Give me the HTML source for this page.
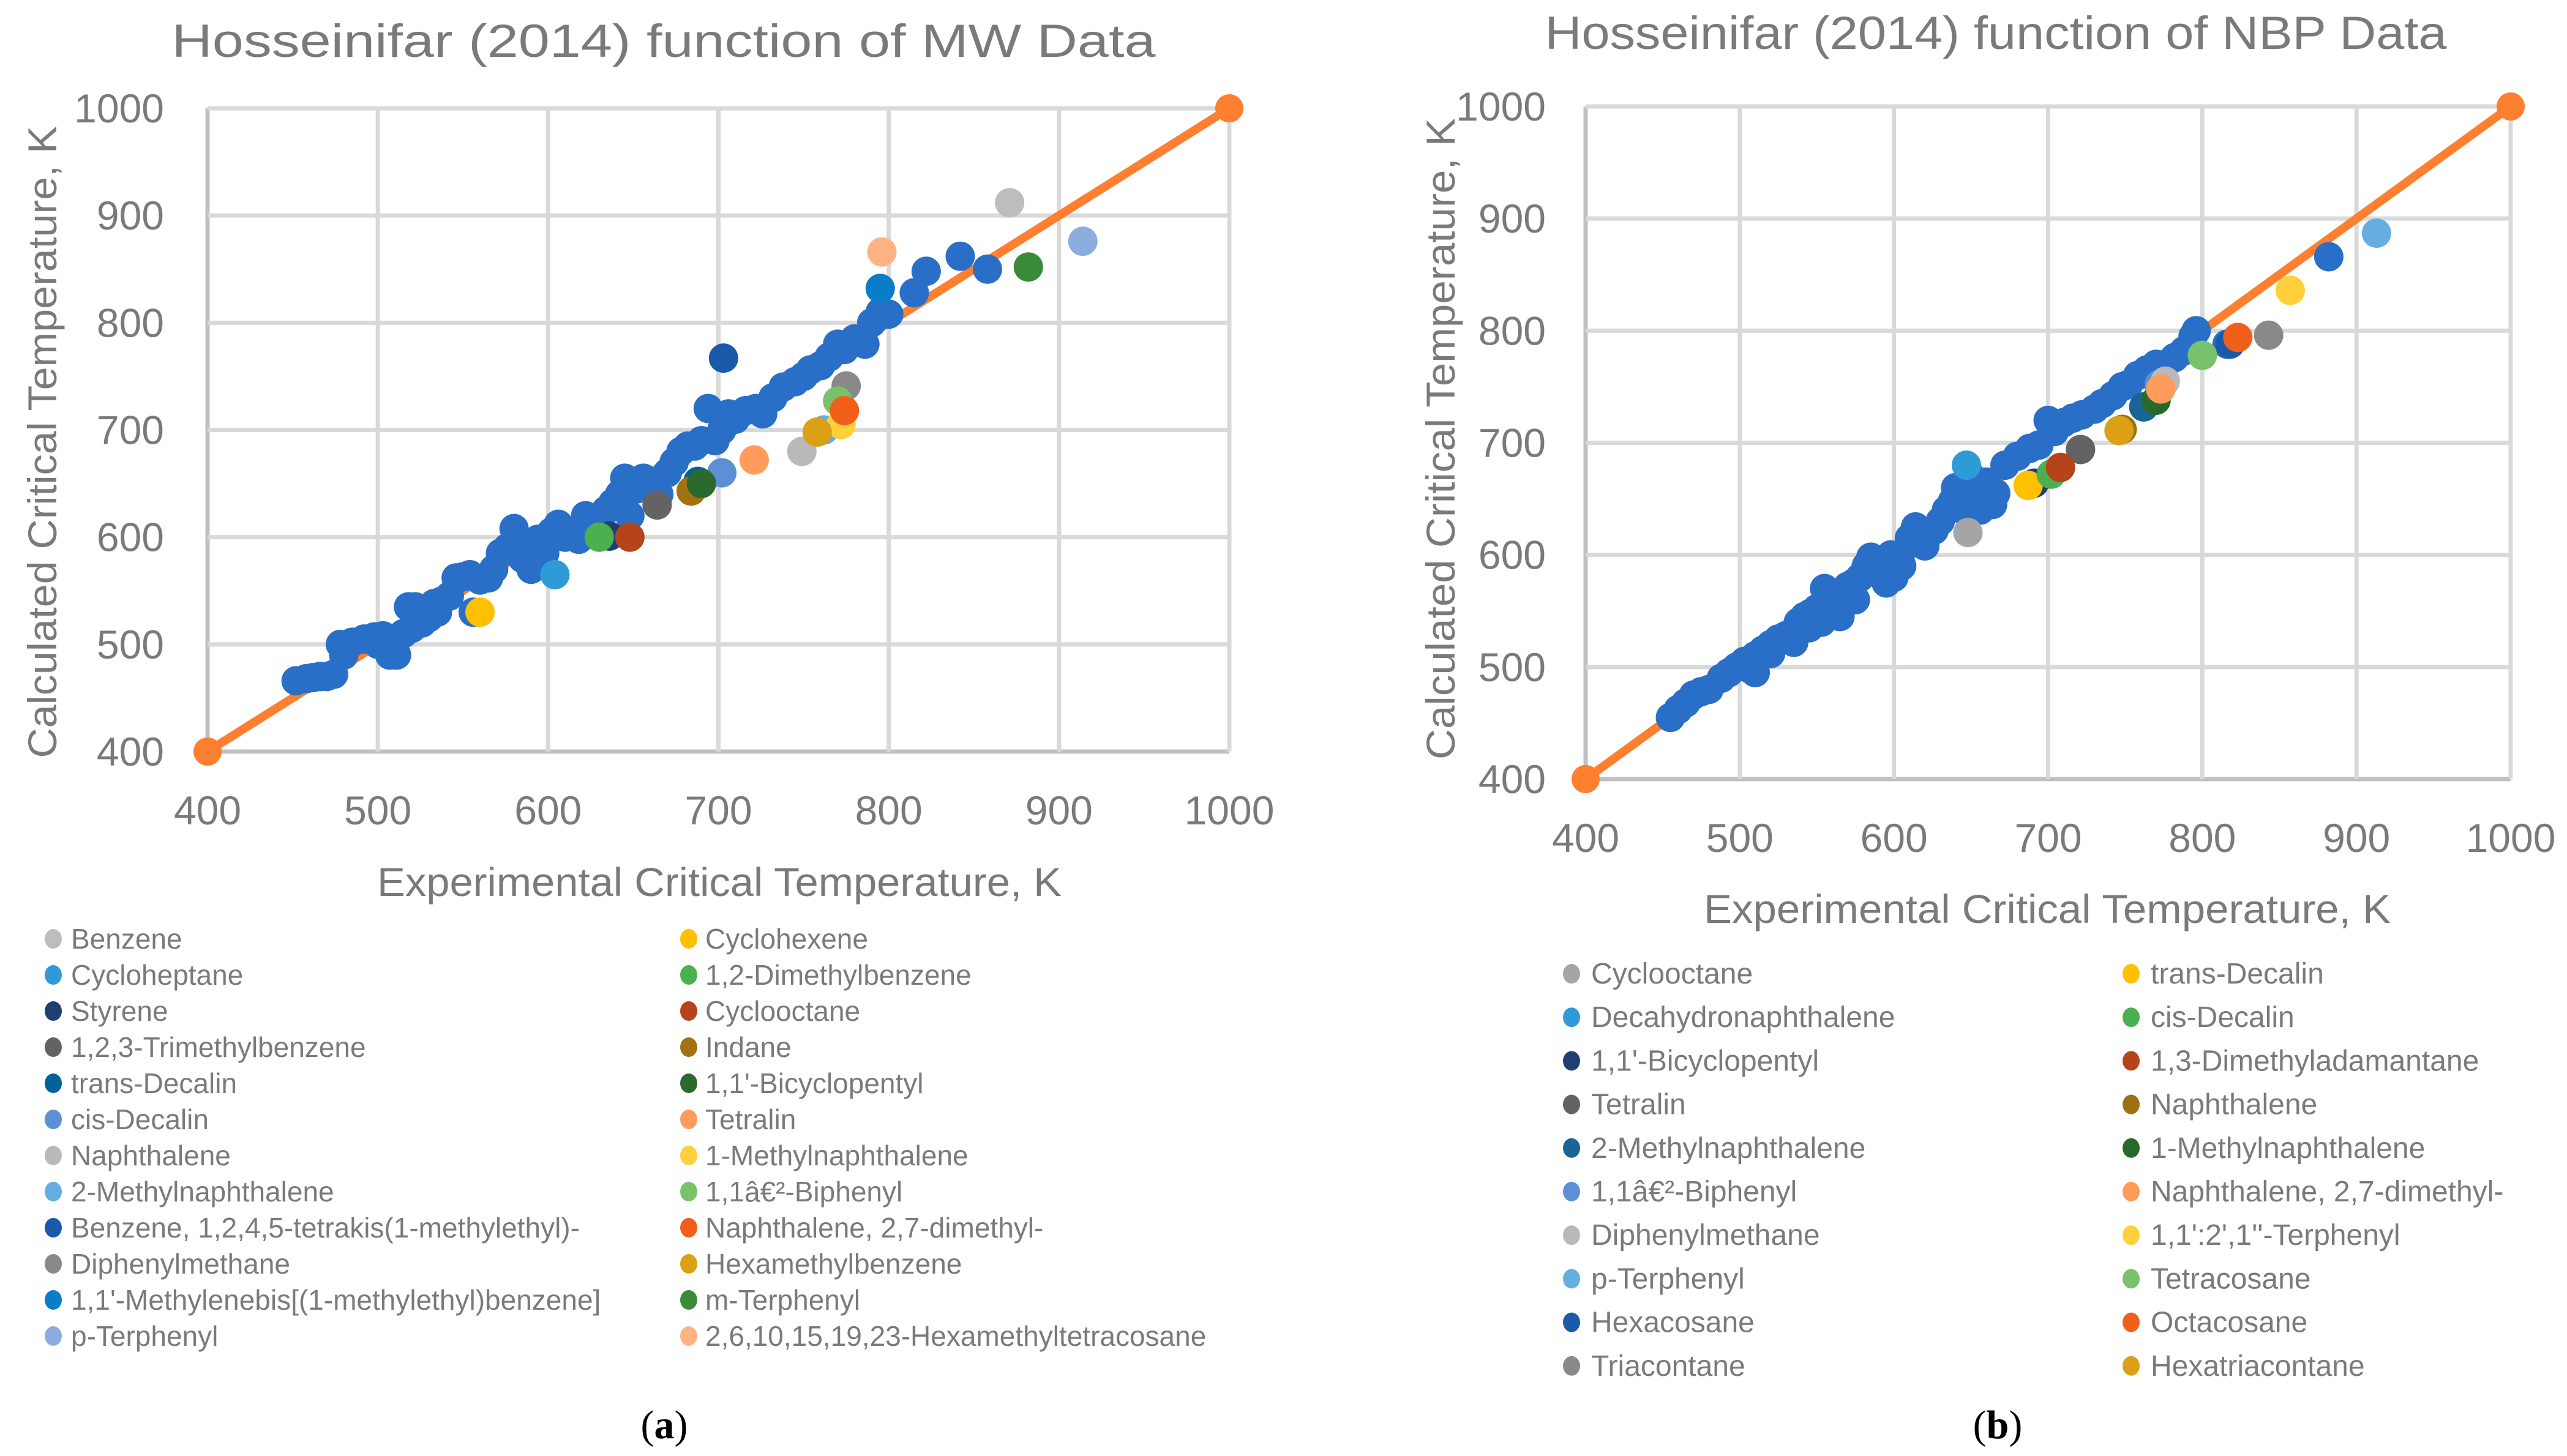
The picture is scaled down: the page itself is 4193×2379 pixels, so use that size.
<!DOCTYPE html>
<html><head><meta charset="utf-8"><title>Hosseinifar (2014) charts</title>
<style>
html,body{margin:0;padding:0;background:#fff;}
svg{display:block;}
text{font-family:"Liberation Sans",sans-serif;fill:#7a7a7a;}
</style></head>
<body>
<svg id="root" xmlns="http://www.w3.org/2000/svg" width="4193" height="2379" viewBox="0 0 4193 2379">
<rect x="0" y="0" width="4193" height="2379" fill="#fff"/>
<g id="chartA"></g>
<g id="chartB"></g>
<g id="legendA"></g>
<g id="legendB"></g>
<text x="1085" y="2350" text-anchor="middle" font-size="66" style="font-family:'Liberation Serif',serif;fill:#000">(<tspan font-weight="bold">a</tspan>)</text>
<text x="3263" y="2350" text-anchor="middle" font-size="66" style="font-family:'Liberation Serif',serif;fill:#000">(<tspan font-weight="bold">b</tspan>)</text>
</svg>
<script>
var NS = "http://www.w3.org/2000/svg";
var ticks = [400, 500, 600, 700, 800, 900, 1000];
var tickLabels = ["400", "500", "600", "700", "800", "900", "1000"];
var parityLine = [400, 1000];

// Chart A: main series (experimental, calculated)
var aMainX = [452,458,462,466,470,474,478,485,492,498,503,507,511,515,518,522,526,530,533,537,542,546,550,554,556,560,565,568,572,576,580,582,585,590,594,598,602,606,610,614,618,622,626,630,634,638,642,645,648,652,656,660,665,670,674,678,682,686,690,694,698,702,706,710,716,722,726,732,738,745,750,754,760,765,770,774,780,786,790,795,800,815,822,842,858,480,500,520,535];
var aMainY = [466,468,469,470,470,472,500,502,505,507,508,490,490,510,535,535,520,525,538,540,545,562,563,565,530,560,562,570,585,590,608,595,580,570,598,585,605,612,600,605,598,620,615,610,625,632,640,655,620,645,655,648,640,660,670,680,685,685,690,720,690,700,715,710,718,720,715,730,740,745,750,756,760,768,780,775,785,780,800,810,808,828,848,862,850,490,500,515,530];
var aSeriesNames = ["Benzene","Cycloheptane","Styrene","1,2,3-Trimethylbenzene","trans-Decalin","cis-Decalin","Naphthalene","2-Methylnaphthalene","Benzene, 1,2,4,5-tetrakis(1-methylethyl)-","Diphenylmethane","1,1'-Methylenebis[(1-methylethyl)benzene]","p-Terphenyl","Cyclohexene","1,2-Dimethylbenzene","Cyclooctane","Indane","1,1'-Bicyclopentyl","Tetralin","1-Methylnaphthalene","1,1â€²-Biphenyl","Naphthalene, 2,7-dimethyl-","Hexamethylbenzene","m-Terphenyl","2,6,10,15,19,23-Hexamethyltetracosane"];
var aSeriesColors = ["#bdbdbd","#2e9bd6","#1f3f73","#636363","#00619b","#5d8fd6","#b9b9b9","#65aee0","#1a5aa8","#898989","#0a7dc8","#8caede","#ffc000","#4caf50","#b5441a","#a27212","#2b6a2c","#ff9c5b","#ffd03a","#79c16b","#f0601a","#dba016","#3b8a3a","#ffb385"];
var aSeriesX = [871,604,636,664,688,702,749,762,703,775,795,914,560,630,648,684,690,721,772,770,774,758,882,796];
var aSeriesY = [912,565,601,630,652,660,680,700,767,741,832,876,530,600,600,643,650,672,705,727,718,698,852,866];

// Chart B
var bMainX = [455,460,465,470,475,480,488,493,498,503,507,510,515,520,525,530,535,538,542,546,550,553,556,560,563,566,570,574,578,582,586,590,594,598,600,604,610,614,618,622,626,630,634,638,642,646,650,654,658,662,666,672,680,688,694,700,704,710,716,722,730,735,742,748,752,758,764,770,776,782,788,794,796,816,882,545,555,565,575,585,595,605,620,640,645,650,656,660,664,520,535,510];
var bMainY = [455,462,468,475,478,480,490,495,500,505,498,510,515,520,525,528,532,540,545,548,552,540,558,560,565,555,572,575,580,590,585,595,590,600,580,598,615,625,620,618,622,630,640,648,655,660,665,655,660,650,655,680,688,695,698,720,710,718,722,725,730,735,742,750,752,760,765,770,770,776,782,795,800,788,866,535,570,545,560,598,575,590,608,660,640,670,640,665,645,512,522,495];
var bSeriesNames = ["Cyclooctane","Decahydronaphthalene","1,1'-Bicyclopentyl","Tetralin","2-Methylnaphthalene","1,1â€²-Biphenyl","Diphenylmethane","p-Terphenyl","Hexacosane","Triacontane","trans-Decalin","cis-Decalin","1,3-Dimethyladamantane","Naphthalene","1-Methylnaphthalene","Naphthalene, 2,7-dimethyl-","1,1':2',1''-Terphenyl","Tetracosane","Octacosane","Hexatriacontane"];
var bSeriesColors = ["#a5a5a5","#2e9bd6","#1f3f73","#636363","#1a6496","#5d8fd6","#b9b9b9","#65aee0","#1a5aa8","#898989","#ffc000","#4caf50","#b5441a","#9e7210","#276a2a","#ff9c5b","#ffd03a","#79c16b","#f0601a","#dba016"];
var bSeriesX = [648,647,691,721,762,772,776,913,818,843,687,702,708,748,770,773,857,800,823,746];
var bSeriesY = [620,680,664,694,732,752,755,887,788,796,662,672,678,712,738,748,836,778,794,711];

function mk(tag, attrs, parent) {
  var e = document.createElementNS(NS, tag);
  for (var k in attrs) e.setAttribute(k, attrs[k]);
  parent.appendChild(e);
  return e;
}
function makeScale(d0, d1, r0, r1) { return function (v) { return r0 + (v - d0) / (d1 - d0) * (r1 - r0); }; }

function drawChart(g, cfg) {
  var sx = makeScale(400, 1000, cfg.x0, cfg.x1);
  var sy = makeScale(400, 1000, cfg.y0, cfg.y1);
  var i, e;
  for (i = 0; i < ticks.length; i++) {
    e = mk("line", {x1: cfg.x0, x2: cfg.x1, y1: sy(ticks[i]), y2: sy(ticks[i]), stroke: i === 0 ? "#c0c0c0" : "#d9d9d9", "stroke-width": 7}, g);
    
    
    e = mk("line", {x1: sx(ticks[i]), x2: sx(ticks[i]), y1: cfg.y0, y2: cfg.y1, stroke: i === 0 ? "#c0c0c0" : "#d9d9d9", "stroke-width": 7}, g);
    
    
    e = mk("text", {x: cfg.yTickRight, y: sy(ticks[i]) + 23, "text-anchor": "end", "font-size": 66}, g);
    e.textContent = tickLabels[i];
    
    
    e = mk("text", {x: sx(ticks[i]), y: cfg.xTickBase, "text-anchor": "middle", "font-size": 66}, g);
    e.textContent = tickLabels[i];
    
    
  }
  e = mk("line", {x1: sx(parityLine[0]), y1: sy(parityLine[0]), x2: sx(parityLine[1]), y2: sy(parityLine[1]), stroke: "#fd7f2f", "stroke-width": 14}, g);
  
  
  for (i = 0; i < parityLine.length; i++) {
    e = mk("circle", {cx: sx(parityLine[i]), cy: sy(parityLine[i]), r: 23, fill: "#fd7f2f"}, g);
    
    
  }
  for (i = 0; i < cfg.mx.length; i++) {
    e = mk("circle", {cx: sx(cfg.mx[i]), cy: sy(cfg.my[i]), r: cfg.r, fill: "#2a6fc7"}, g);
    
    
  }
  for (i = 0; i < cfg.sx.length; i++) {
    e = mk("circle", {cx: sx(cfg.sx[i]), cy: sy(cfg.sy[i]), r: cfg.r, fill: cfg.sc[i]}, g);
    
    
  }
  e = mk("text", {x: cfg.titleX, y: cfg.titleY, "text-anchor": "middle", "font-size": 76, textLength: cfg.titleW, lengthAdjust: "spacingAndGlyphs"}, g);
  e.textContent = cfg.title;
  
  
  e = mk("text", {x: cfg.xtX, y: cfg.xtY, "text-anchor": "middle", "font-size": 66, textLength: cfg.xtW, lengthAdjust: "spacingAndGlyphs"}, g);
  e.textContent = "Experimental Critical Temperature, K";
  
  
  e = mk("text", {x: 0, y: 0, "text-anchor": "middle", "font-size": 66, textLength: cfg.ytW, lengthAdjust: "spacingAndGlyphs", transform: "translate(" + cfg.ytX + "," + cfg.ytY + ") rotate(-90)"}, g);
  e.textContent = "Calculated Critical Temperature, K";
  
  
}

drawChart(document.getElementById("chartA"), {
  x0: 339, x1: 2008, y0: 1228, y1: 177, r: 24,
  mx: aMainX, my: aMainY, sx: aSeriesX, sy: aSeriesY, sc: aSeriesColors,
  yTickRight: 268, xTickBase: 1347,
  title: "Hosseinifar (2014) function of MW Data", titleX: 1084, titleY: 93, titleW: 1607,
  xtX: 1175, xtY: 1464, xtW: 1118, ytX: 92, ytY: 722, ytW: 1033
});
drawChart(document.getElementById("chartB"), {
  x0: 2590, x1: 4101, y0: 1273, y1: 174, r: 24,
  mx: bMainX, my: bMainY, sx: bSeriesX, sy: bSeriesY, sc: bSeriesColors,
  yTickRight: 2525, xTickBase: 1392,
  title: "Hosseinifar (2014) function of NBP Data", titleX: 3260, titleY: 80, titleW: 1473,
  xtX: 3344, xtY: 1508, xtW: 1122, ytX: 2376, ytY: 717, ytW: 1048
});

function drawLegend(g, names, colors, cfg) {
  var half = Math.ceil(names.length / 2);
  for (var i = 0; i < names.length; i++) {
    var col = i < half ? 0 : 1;
    var row = i < half ? i : i - half;
    var y = cfg.y0 + row * cfg.step;
    var e = mk("ellipse", {cx: cfg.mx[col], cy: y, rx: 14, ry: 16, fill: colors[i]}, g);
    
    
    e = mk("text", {x: cfg.tx[col], y: y + 16, "font-size": cfg.fs}, g);
    e.textContent = names[i];
    
    
  }
}
drawLegend(document.getElementById("legendA"), aSeriesNames, aSeriesColors, {y0: 1534, step: 59, mx: [87, 1125], tx: [116, 1152], fs: 46});
drawLegend(document.getElementById("legendB"), bSeriesNames, bSeriesColors, {y0: 1591, step: 71.2, mx: [2567, 3481], tx: [2599, 3513], fs: 48});
</script>
</body></html>
